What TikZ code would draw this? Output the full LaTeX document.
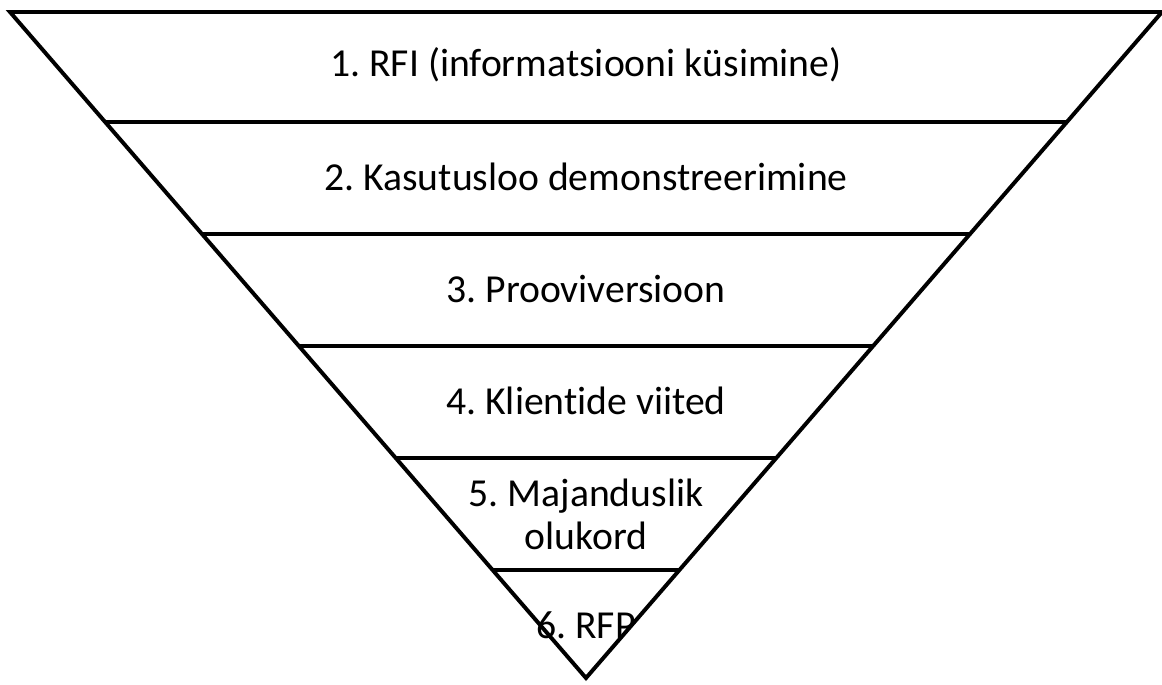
\documentclass[tikz,border=0pt]{standalone}
\usepackage{fontspec}
\setmainfont{Carlito}[Ligatures=NoCommon]
\frenchspacing
\begin{document}
\begin{tikzpicture}[x=0.025cm,y=-0.025cm,line width=2.8pt,line join=miter,
	lbl/.style={align=center,font=\fontsize{28.2}{30.5}\selectfont}]
\useasboundingbox (0,0) rectangle (1162,684);
\def\ty{12}
\def\ay{678}
\def\ax{586}
\def\hw{576}

\coordinate (t1) at (\ax-\hw,\ty);
\coordinate (t2) at (\ax+\hw,\ty);
\coordinate (p) at (\ax,\ay);

\draw (t1) -- (t2) -- (p) -- cycle;

\foreach \s/\y in {1/122,2/234,3/346,4/458,5/570}
{
	\pgfmathsetmacro\w{\hw/(\ay-\ty)*(\ay-\y)}
	\coordinate (l\s) at (\ax-\w,\y);
	\coordinate (r\s) at (\ax+\w,\y);
	\draw[line cap=butt] (l\s) -- (r\s);
};

\foreach \s/\y/\t in {1/65/{1. RFI (informatsiooni küsimine)},
	2/177/{2. Kasutusloo demonstreerimine},
	3/289/{3. Prooviversioon},
	4/401/{4. Klientide viited},
	5/514/{5. Majanduslik\\olukord},
	6/625/{6. RFP}}
{
	\node[lbl] (n\s) at (\ax,\y) {\t};
};
\end{tikzpicture}
\end{document}
